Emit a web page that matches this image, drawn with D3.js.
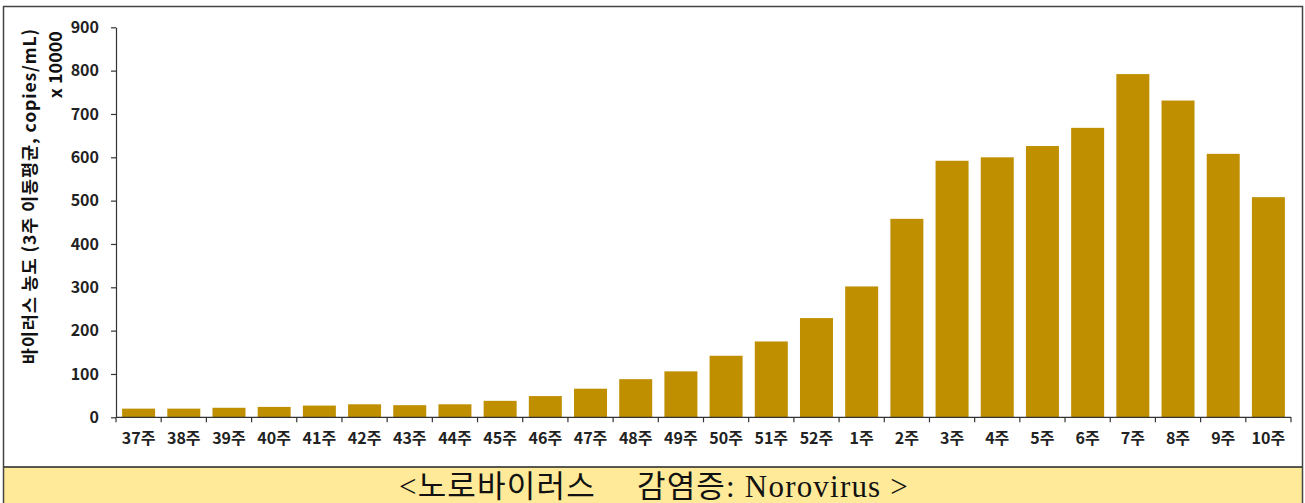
<!DOCTYPE html>
<html><head><meta charset="utf-8">
<script src="https://cdn.jsdelivr.net/npm/d3@7"></script>
<style>
html,body{margin:0;padding:0;background:#fff;}
svg{display:block;}
</style></head>
<body>
<svg id="chart" width="1305" height="503"></svg>
<script>
const categories = ["37주","38주","39주","40주","41주","42주","43주","44주","45주","46주","47주","48주","49주","50주","51주","52주","1주","2주","3주","4주","5주","6주","7주","8주","9주","10주"];
const values = [20,20,22,24,27,30,28,30,38,49,66,88,106,142,175,229,302,458,592,600,626,668,792,731,608,508];
const yTicks = [0,100,200,300,400,500,600,700,800,900];
const yTitle = "바이러스 농도 (3주 이동평균, copies/mL)";
const yTitle2 = "x 10000";
const captionParts = ["<노로바이러스", " 감염증: Norovirus >"];

const svg = d3.select("#chart");
const mLeft = 116, mRight = 1291, mTop = 27.3, mBottom = 417.3;
const labelFont = "'Noto Sans CJK KR','Noto Sans',sans-serif";

// frame & caption band
svg.append("rect").attr("x",3.5).attr("y",467).attr("width",1299).attr("height",40)
  .attr("fill","#FFEA99");
svg.append("line").attr("x1",3.5).attr("x2",1302.5).attr("y1",467).attr("y2",467)
  .attr("stroke","#222").attr("stroke-width",1.5);
svg.append("rect").attr("x",3.5).attr("y",6.5).attr("width",1299).attr("height",505)
  .attr("fill","none").attr("stroke","#444").attr("stroke-width",1.5);

const x = d3.scaleBand().domain(categories).range([mLeft,mRight]).paddingInner(0.27).paddingOuter(0.135);
const xb = d3.scaleBand().domain(categories).range([mLeft,mRight]).padding(0);
const y = d3.scaleLinear().domain([0,900]).range([mBottom,mTop]);

// bars
svg.append("g").selectAll("rect").data(values).join("rect")
  .attr("x",(d,i)=>x(categories[i]))
  .attr("width",x.bandwidth())
  .attr("y",d=>y(d))
  .attr("height",d=>y(0)-y(d))
  .attr("fill","#BF8F00");

// y axis
const yAxis = svg.append("g").attr("transform",`translate(${mLeft},0)`)
  .call(d3.axisLeft(y).tickValues(yTicks).tickSize(5).tickPadding(12).tickSizeOuter(0));
yAxis.select(".domain").attr("stroke","#333").attr("stroke-width",1.2);
yAxis.selectAll(".tick line").attr("stroke","#333").attr("stroke-width",1.2);
yAxis.selectAll("text").attr("font-family",labelFont).attr("font-size",16).attr("font-weight","bold").attr("fill","#222");

// x axis: ticks at category boundaries
const xAxisG = svg.append("g").attr("transform",`translate(0,${mBottom})`);
xAxisG.append("line").attr("x1",mLeft).attr("x2",mRight).attr("stroke","#333").attr("stroke-width",1.2);
const bounds = categories.map(c=>xb(c)).concat([mRight]);
xAxisG.selectAll("line.tk").data(bounds).join("line").attr("class","tk")
  .attr("x1",d=>d).attr("x2",d=>d).attr("y1",0).attr("y2",5)
  .attr("stroke","#333").attr("stroke-width",1.2);
xAxisG.selectAll("text").data(categories).join("text")
  .attr("x",d=>x(d)+x.bandwidth()/2).attr("y",27)
  .attr("text-anchor","middle")
  .attr("font-family",labelFont).attr("font-size",16).attr("font-weight","bold").attr("fill","#222")
  .text(d=>d);

// y title
svg.append("text").attr("transform","translate(36,28) rotate(-90)")
  .attr("text-anchor","end").attr("font-family",labelFont).attr("font-size",17.5).attr("font-weight","bold").attr("fill","#111")
  .attr("letter-spacing",0.9)
  .text(yTitle);
svg.append("text").attr("transform","translate(62,31) rotate(-90)")
  .attr("text-anchor","end").attr("font-family",labelFont).attr("font-size",18).attr("font-weight","bold").attr("fill","#111")
  .text(yTitle2);

// caption
const cap = svg.append("text").attr("x",654).attr("y",497).attr("text-anchor","middle")
  .attr("font-family","'Liberation Serif','Noto Sans CJK KR',serif").attr("font-size",31).attr("fill","#111")
  .attr("letter-spacing",1.2)
  .style("white-space","pre");
cap.append("tspan").text(captionParts[0]);
cap.append("tspan").attr("dx",32).text(captionParts[1]);
</script>
</body></html>
